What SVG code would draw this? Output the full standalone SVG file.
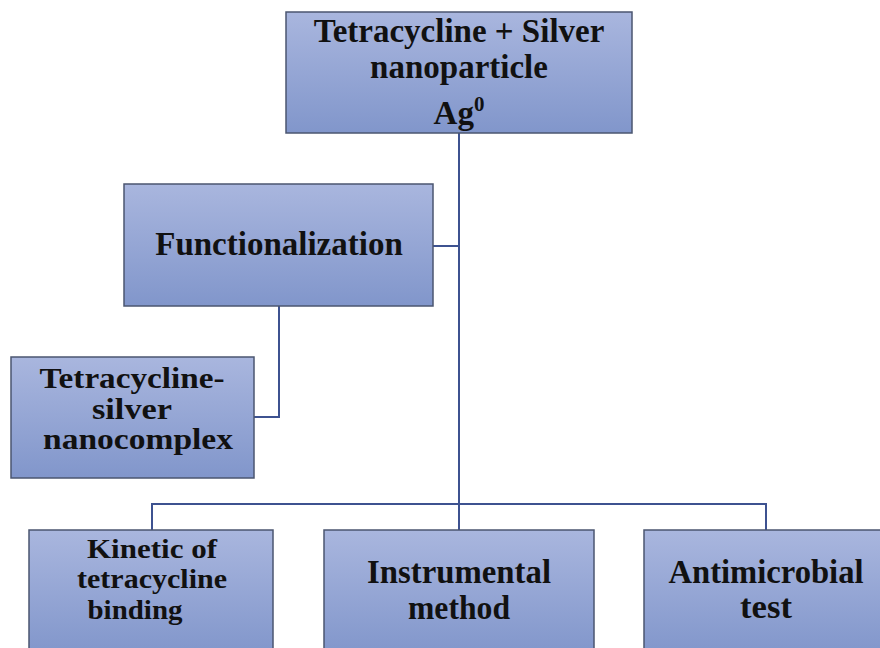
<svg xmlns="http://www.w3.org/2000/svg" width="880" height="648" viewBox="0 0 880 648">
<defs>
<linearGradient id="g" x1="0" y1="0" x2="0" y2="1">
<stop offset="0" stop-color="#a9b6de"/>
<stop offset="1" stop-color="#8196cb"/>
</linearGradient>
<style>
.box{fill:url(#g);stroke:#4b5670;stroke-width:1.5}
.t{font-family:"Liberation Serif","Times New Roman",serif;font-weight:bold;fill:#111;text-anchor:middle}
.big{font-size:33px}
.n{font-size:30px}
.c{font-size:33px}
.k{font-size:28px}
.con{fill:none;stroke:#3d5290;stroke-width:2}
</style>
</defs>
<rect width="880" height="648" fill="#fff"/>
<g id="connectors">
<path class="con" d="M459 133 V504"/>
<path class="con" d="M433 246 H459"/>
<path class="con" d="M279 306 V417 H254"/>
<path class="con" d="M152 530 V504 H766 V530"/>
<path class="con" d="M459 504 V530"/>
</g>
<g id="top">
<rect class="box" x="286" y="12" width="346" height="121"/>
<text class="t big" x="459" y="42">Tetracycline + Silver</text>
<text class="t big" x="459" y="78">nanoparticle</text>
<text class="t big" x="459" y="124">Ag<tspan font-size="21" dy="-13">0</tspan></text>
</g>
<g id="functionalization">
<rect class="box" x="124" y="184" width="309" height="122"/>
<text class="t big" x="279" y="255">Functionalization</text>
</g>
<g id="nanocomplex">
<rect class="box" x="11" y="357" width="243" height="121"/>
<text class="t n" x="132" y="388" textLength="185" lengthAdjust="spacingAndGlyphs">Tetracycline-</text>
<text class="t n" x="132" y="419" textLength="80" lengthAdjust="spacingAndGlyphs">silver</text>
<text class="t n" x="138" y="449" textLength="190" lengthAdjust="spacingAndGlyphs">nanocomplex</text>
</g>
<g id="kinetic">
<rect class="box" x="29" y="530" width="244" height="125"/>
<text class="t k" x="152" y="558" textLength="130" lengthAdjust="spacingAndGlyphs">Kinetic of</text>
<text class="t k" x="152" y="588" textLength="150" lengthAdjust="spacingAndGlyphs">tetracycline</text>
<text class="t k" x="135" y="619" textLength="95" lengthAdjust="spacingAndGlyphs">binding</text>
</g>
<g id="instrumental">
<rect class="box" x="324" y="530" width="270" height="125"/>
<text class="t c" x="459" y="583" textLength="184" lengthAdjust="spacingAndGlyphs">Instrumental</text>
<text class="t c" x="459" y="619" textLength="102" lengthAdjust="spacingAndGlyphs">method</text>
</g>
<g id="antimicrobial">
<rect class="box" x="644" y="530" width="245" height="125"/>
<text class="t c" x="766" y="583" textLength="195" lengthAdjust="spacingAndGlyphs">Antimicrobial</text>
<text class="t c" x="766" y="618" textLength="52" lengthAdjust="spacingAndGlyphs">test</text>
</g>
</svg>
